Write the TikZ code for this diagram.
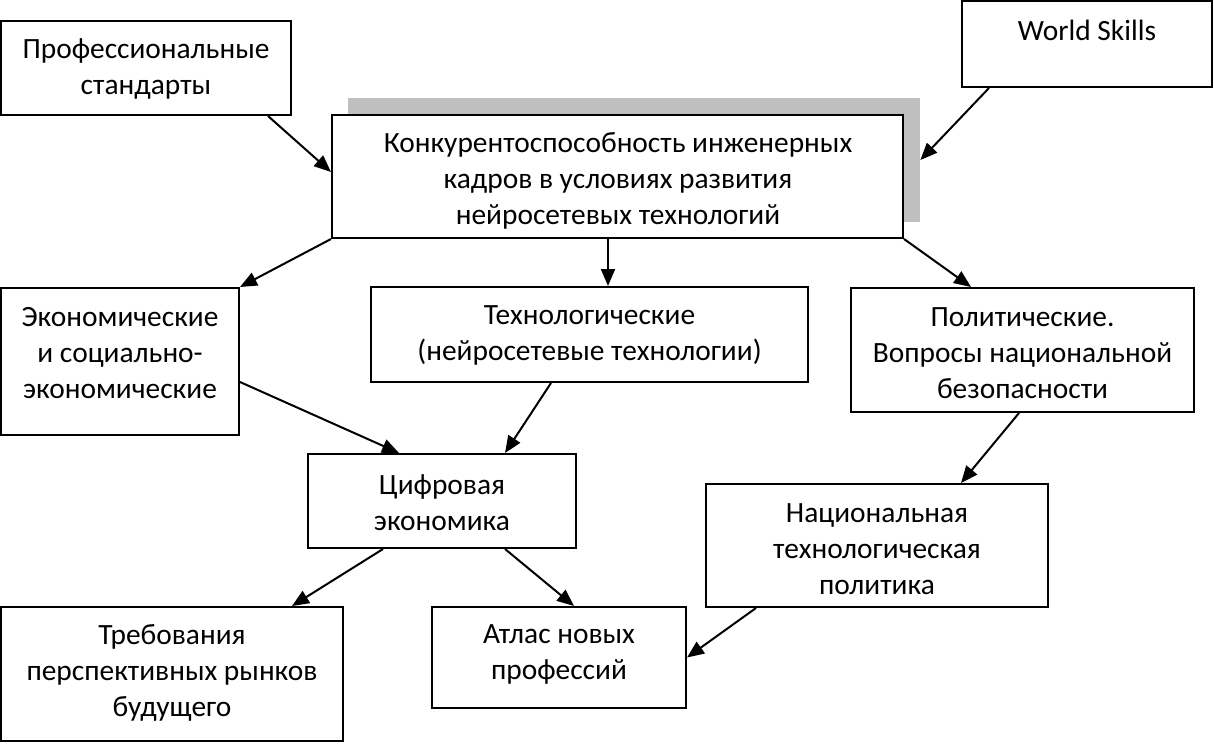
\documentclass[tikz,border=0pt]{standalone}
\usepackage{fontspec}
\setmainfont{Carlito}
\usetikzlibrary{arrows.meta,calc}
\begin{document}
\begin{tikzpicture}[x=0.5pt,y=-0.5pt,
  box/.style={draw=black,line width=1pt,fill=white,rectangle,inner sep=0pt},
  txt/.style={inner sep=0pt,align=center,font=\fontsize{14.7pt}{18pt}\selectfont},
  shadowbox/.style={fill=black!25,draw=none,rectangle,inner sep=0pt},
  arr/.style={line width=1pt,-{Triangle[length=8.5pt,width=7pt]}}]
\useasboundingbox (0,0) rectangle (1214,744);
\fill[white] (0,0) rectangle (1214,744);
% boxes
\node[box,minimum width=145pt,minimum height=47pt] (prof) at (146,68) {};
\node[txt] (profT) at (146,69) {Профессиональные\\стандарты};
\node[box,minimum width=125pt,minimum height=43pt] (ws) at (1087,44) {};
\node[txt] (wsT) at (1087,30) {World Skills};
\node[shadowbox,minimum width=286pt,minimum height=62pt] (shadow) at (634,160) {};
\node[box,minimum width=285.5pt,minimum height=61.5pt] (main) at (617.5,176.5) {};
\node[txt] (mainT) at (618,181) {Конкурентоспособность инженерных\\кадров в условиях развития\\нейросетевых технологий};
\node[box,minimum width=119pt,minimum height=73.5pt] (eco) at (120,361.5) {};
\node[txt] (ecoT) at (120,353) {Экономические\\и социально-\\экономические};
\node[box,minimum width=218.5pt,minimum height=47.5pt] (tech) at (589.5,334.5) {};
\node[txt] (techT) at (589.5,335.5) {Технологические\\(нейросетевые технологии)};
\node[box,minimum width=171.5pt,minimum height=62pt] (pol) at (1022.5,350) {};
\node[txt] (polT) at (1022.5,353) {Политические.\\Вопросы национальной\\безопасности};
\node[box,minimum width=134pt,minimum height=47pt] (dig) at (442,501) {};
\node[txt] (digT) at (442,502.5) {Цифровая\\экономика};
\node[box,minimum width=171pt,minimum height=61.5pt] (nat) at (877,545.5) {};
\node[txt] (natT) at (877,549.5) {Национальная\\технологическая\\политика};
\node[box,minimum width=171pt,minimum height=67pt] (req) at (172,674) {};
\node[txt] (reqT) at (172,672.5) {Требования\\перспективных рынков\\будущего};
\node[box,minimum width=127pt,minimum height=50.5pt] (atlas) at (559,657.5) {};
\node[txt] (atlasT) at (559,654.5) {Атлас новых\\профессий};
% arrows
\draw[arr] ([xshift=134pt]prof.south west) -- ([yshift=2.25pt]main.west);
\draw[arr] ([xshift=14pt]ws.south west) -- (shadow.east);
\draw[arr] (main.south west) -- (eco.north east);
\draw[arr] ([xshift=-4.75pt]main.south) -- ([xshift=-4.75pt]main.south |- tech.north);
\draw[arr] (main.south east) -- ([xshift=60.5pt]pol.north west);
\draw[arr] ([yshift=-10.25pt]eco.east) -- ([xshift=46pt]dig.north west);
\draw[arr] ([xshift=90.5pt]tech.south west) -- ([xshift=99pt]dig.north west);
\draw[arr] ([xshift=84.5pt]pol.south west) -- ([xshift=128pt]nat.north west);
\draw[arr] ([xshift=38pt]dig.south west) -- ([xshift=146pt]req.north west);
\draw[arr] ([xshift=99pt]dig.south west) -- ([xshift=71.5pt]atlas.north west);
\draw[arr] ([xshift=25.5pt]nat.south west) -- (atlas.east);
\end{tikzpicture}
\end{document}
